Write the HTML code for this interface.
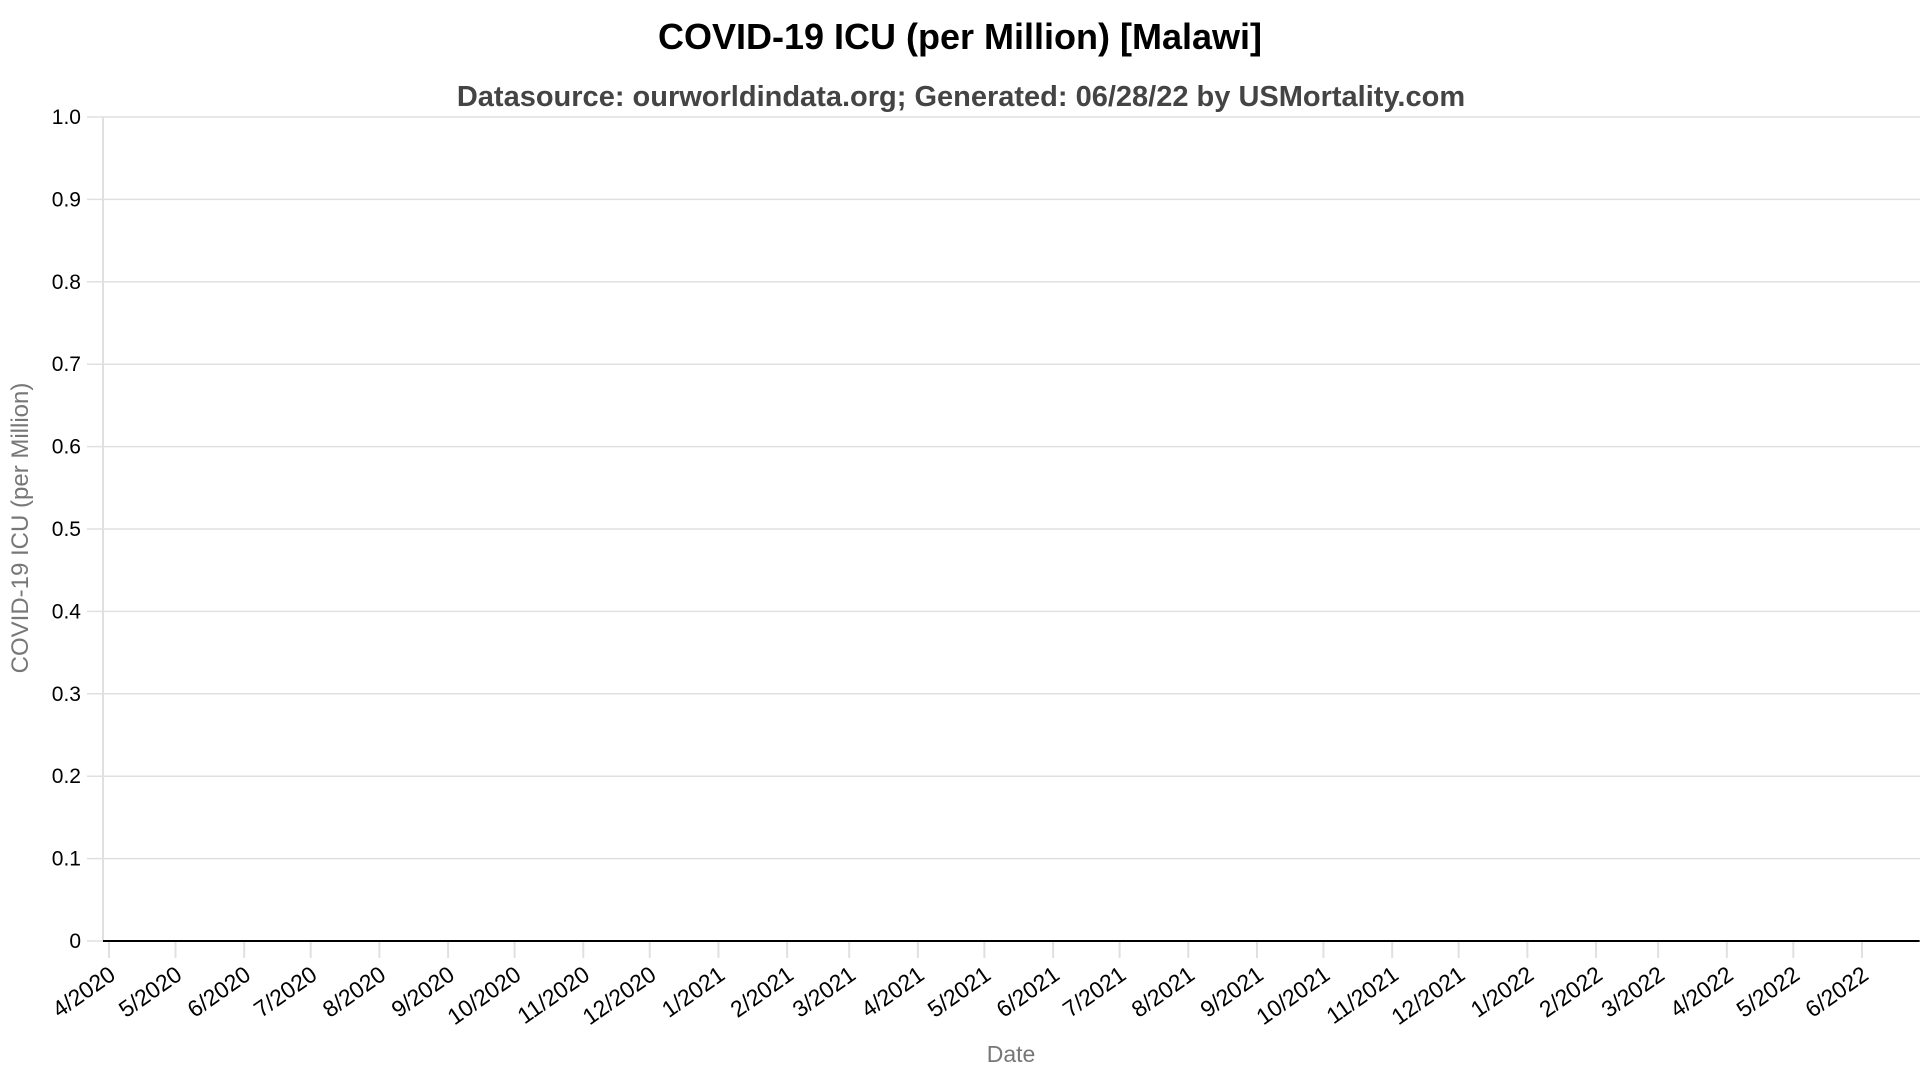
<!DOCTYPE html>
<html><head><meta charset="utf-8"><style>
html,body{margin:0;padding:0;background:#fff;}
svg{display:block;font-family:"Liberation Sans",Arial,sans-serif;}
</style></head><body>
<svg id="chart" width="1920" height="1080" viewBox="0 0 1920 1080">
<text x="960" y="49" text-anchor="middle" font-size="36" font-weight="bold" fill="#000">COVID-19 ICU (per Million) [Malawi]</text>
<text x="961" y="106" text-anchor="middle" font-size="29" font-weight="bold" fill="#444">Datasource: ourworldindata.org; Generated: 06/28/22 by USMortality.com</text>
<g id="grid"></g><g id="yaxis"></g><g id="xaxis"></g><g id="series"></g>
<text transform="translate(28,528) rotate(-90)" text-anchor="middle" font-size="24" fill="#777">COVID-19 ICU (per Million)</text>
<text x="1011" y="1062" text-anchor="middle" font-size="23" fill="#777">Date</text>
</svg>
<script>
const yTicks = [0,0.1,0.2,0.3,0.4,0.5,0.6,0.7,0.8,0.9,1.0];
const yTickLabels = ["0","0.1","0.2","0.3","0.4","0.5","0.6","0.7","0.8","0.9","1.0"];
const xTickDates = ["2020-04-01","2020-05-01","2020-06-01","2020-07-01","2020-08-01","2020-09-01","2020-10-01","2020-11-01","2020-12-01","2021-01-01","2021-02-01","2021-03-01","2021-04-01","2021-05-01","2021-06-01","2021-07-01","2021-08-01","2021-09-01","2021-10-01","2021-11-01","2021-12-01","2022-01-01","2022-02-01","2022-03-01","2022-04-01","2022-05-01","2022-06-01"];
const xTickLabels = ["4/2020","5/2020","6/2020","7/2020","8/2020","9/2020","10/2020","11/2020","12/2020","1/2021","2/2021","3/2021","4/2021","5/2021","6/2021","7/2021","8/2021","9/2021","10/2021","11/2021","12/2021","1/2022","2/2022","3/2022","4/2022","5/2022","6/2022"];
const seriesDates = ["2020-03-29","2020-07-01","2021-01-01","2021-07-01","2022-01-01","2022-06-27"];
const seriesValues = [0,0,0,0,0,0];

const NS="http://www.w3.org/2000/svg";
const plotL=103, plotR=1920, plotT=117, plotB=941;
const t0=Date.parse("2020-04-01"), t1=Date.parse("2022-06-01");
const x0=109, x1=1862;
function xScale(d){return x0+(Date.parse(d)-t0)/(t1-t0)*(x1-x0);}
function yScale(v){return plotB-(v/1.0)*(plotB-plotT);}
function mk(tag,attrs,parent){const e=document.createElementNS(NS,tag);for(const k in attrs)e.setAttribute(k,attrs[k]);parent.appendChild(e);return e;}

const grid=document.getElementById('grid'), ya=document.getElementById('yaxis'), xa=document.getElementById('xaxis'), se=document.getElementById('series');
mk('line',{x1:plotL,y1:plotT,x2:plotL,y2:plotB,stroke:'#e0e0e0','stroke-width':2},grid);
yTicks.forEach((v,i)=>{
  const y=yScale(v);
  const l=mk('line',{x1:87,y1:y,x2:plotR,y2:y,stroke:'#e0e0e0','stroke-width':1.5},grid);
  
  
  const t=mk('text',{x:81,y:y+7,'text-anchor':'end','font-size':21,fill:'#000'},ya);
  t.textContent=yTickLabels[i];
  
  
});
xTickDates.forEach((d,i)=>{
  const x=xScale(d);
  const l=mk('line',{x1:x,y1:plotB,x2:x,y2:plotB+17,stroke:'#e0e0e0','stroke-width':2},xa);
  
  
  const t=mk('text',{transform:`translate(${x+8},${plotB+37}) rotate(-35)`,'text-anchor':'end','font-size':23,fill:'#000'},xa);
  t.textContent=xTickLabels[i];
  
  
});
let dstr=seriesDates.map((d,i)=>(i?'L':'M')+Math.max(plotL,xScale(d))+','+yScale(seriesValues[i])).join(' ');
const p=mk('path',{d:dstr,fill:'none',stroke:'#000','stroke-width':2},se);


</script>
</body></html>
